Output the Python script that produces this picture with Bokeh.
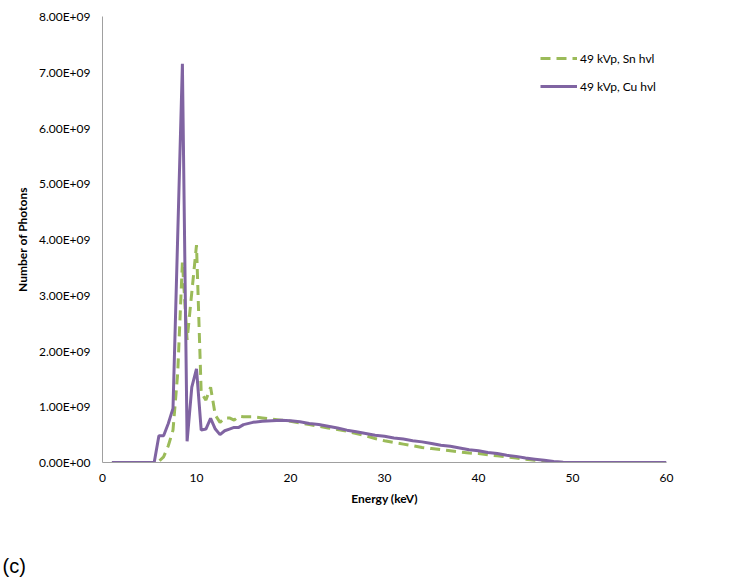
from bokeh.plotting import figure
from bokeh.models import (ColumnDataSource, Legend, LegendItem, Title, FixedTicker,
                          CustomJSTickFormatter, Range1d)
from bokeh.embed import file_html
from bokeh.resources import INLINE

# ---- data ----
energy_kev = [1, 2, 3, 4, 5, 5.5, 6, 6.5, 7, 7.5, 8, 8.5, 9, 9.5, 10, 10.5, 11, 11.5,
              12, 12.5, 13, 13.5, 14, 14.5, 15, 16, 17, 18, 19, 20, 21, 22, 23, 24,
              25, 26, 27, 28, 29, 30, 31, 32, 33, 34, 35, 36, 37, 38, 39, 40, 41, 42,
              43, 44, 45, 46, 47, 48, 49, 50, 51, 52, 53, 54, 55, 56, 57, 58, 59, 60]

sn_hvl = [0, 0, 0, 0, 0, 0, 0.02e9, 0.1e9, 0.3e9, 0.58e9, 1.6e9, 3.6e9, 2.2e9, 3.05e9,
          3.9e9, 1.25e9, 1.12e9, 1.35e9, 0.85e9, 0.72e9, 0.8e9, 0.8e9, 0.76e9, 0.83e9,
          0.82e9, 0.82e9, 0.8e9, 0.78e9, 0.76e9, 0.74e9, 0.71e9, 0.68e9, 0.65e9, 0.62e9,
          0.59e9, 0.56e9, 0.52e9, 0.48e9, 0.43e9, 0.39e9, 0.36e9, 0.33e9, 0.30e9, 0.27e9,
          0.25e9, 0.23e9, 0.21e9, 0.19e9, 0.17e9, 0.16e9, 0.14e9, 0.12e9, 0.10e9, 0.08e9,
          0.06e9, 0.04e9, 0.02e9, 0.008e9, 0, 0, 0, 0, 0, 0, 0, 0, 0, 0, 0, 0]

cu_hvl = [0, 0, 0, 0, 0, 0, 0.48e9, 0.48e9, 0.7e9, 0.97e9, 4.06e9, 7.15e9, 0.38e9, 1.35e9,
          1.68e9, 0.58e9, 0.6e9, 0.79e9, 0.6e9, 0.5e9, 0.57e9, 0.6e9, 0.63e9, 0.63e9,
          0.68e9, 0.72e9, 0.74e9, 0.75e9, 0.76e9, 0.75e9, 0.73e9, 0.70e9, 0.68e9, 0.65e9,
          0.62e9, 0.58e9, 0.55e9, 0.52e9, 0.49e9, 0.47e9, 0.44e9, 0.42e9, 0.39e9, 0.37e9,
          0.34e9, 0.31e9, 0.29e9, 0.26e9, 0.23e9, 0.21e9, 0.18e9, 0.16e9, 0.13e9, 0.11e9,
          0.08e9, 0.06e9, 0.04e9, 0.02e9, 0.005e9, 0, 0, 0, 0, 0, 0, 0, 0, 0, 0, 0]

series_labels = ["49 kVp, Sn hvl", "49 kVp, Cu hvl"]
x_ticks = [0, 10, 20, 30, 40, 50, 60]
y_ticks = [0, 1e9, 2e9, 3e9, 4e9, 5e9, 6e9, 7e9, 8e9]
panel_tag = "(c)"

FONT = "Lato"
AXIS_GRAY = "#a0a0a0"
GREEN = "#9bbb59"
PURPLE = "#8064a2"

p = figure(width=733, height=582, output_backend="svg", toolbar_location=None,
           x_range=Range1d(0, 60), y_range=Range1d(0, 8e9),
           min_border_left=102, min_border_right=67, min_border_top=16,
           min_border_bottom=120, title=None)
p.outline_line_color = None
p.xgrid.visible = False
p.ygrid.visible = False
p.background_fill_color = "white"
p.border_fill_color = "white"

src = ColumnDataSource(dict(e=energy_kev, sn=sn_hvl, cu=cu_hvl))
r_sn = p.line("e", "sn", source=src, line_color=GREEN, line_width=3,
              line_dash="10 6")
r_cu = p.line("e", "cu", source=src, line_color=PURPLE, line_width=3)

for ax in (p.xaxis[0], p.yaxis[0]):
    ax.axis_line_color = AXIS_GRAY
    ax.major_tick_out = 0
    ax.major_tick_in = 0
    ax.minor_tick_out = 0
    ax.minor_tick_in = 0
    ax.major_label_text_font = FONT
    ax.major_label_text_font_size = "12px"
    ax.major_label_text_color = "#000000"
    ax.axis_label_text_font = FONT
    ax.axis_label_text_font_size = "12px"
    ax.axis_label_text_font_style = "bold"
    ax.axis_label_text_color = "#000000"

p.xaxis.ticker = FixedTicker(ticks=x_ticks)
p.yaxis.ticker = FixedTicker(ticks=y_ticks)
p.xaxis.axis_label = "Energy (keV)"
p.yaxis.axis_label = "Number of Photons"
p.xaxis.major_label_standoff = 11
p.xaxis.axis_label_standoff = 6
p.yaxis.major_label_standoff = 12
p.yaxis.axis_label_standoff = 6
p.yaxis.formatter = CustomJSTickFormatter(code="""
    const s = tick.toExponential(2).toUpperCase();
    const parts = s.split("E");
    const sign = parts[1][0];
    const d = parts[1].slice(1).padStart(2, "0");
    return parts[0] + "E" + sign + d;
""")

legend = Legend(items=[LegendItem(label=series_labels[0], renderers=[r_sn]),
                       LegendItem(label=series_labels[1], renderers=[r_cu])],
                location=(438, 366), padding=0, margin=0, spacing=8,
                glyph_width=37, glyph_height=20, label_height=20,
                label_standoff=3, border_line_alpha=0, background_fill_alpha=0,
                label_text_font=FONT, label_text_font_size="12px",
                label_text_color="#000000")
p.add_layout(legend, "center")

# blank spacer below the axis title, then the panel tag at the very bottom
p.add_layout(Title(text=" ", text_font_size="20px", standoff=20), "below")
p.add_layout(Title(text=panel_tag, align="left", offset=-100, standoff=0,
                   text_font="Liberation Sans", text_font_size="20px",
                   text_font_style="normal", text_color="#000000"), "below")

open("out.html", "w").write(file_html(p, INLINE))
